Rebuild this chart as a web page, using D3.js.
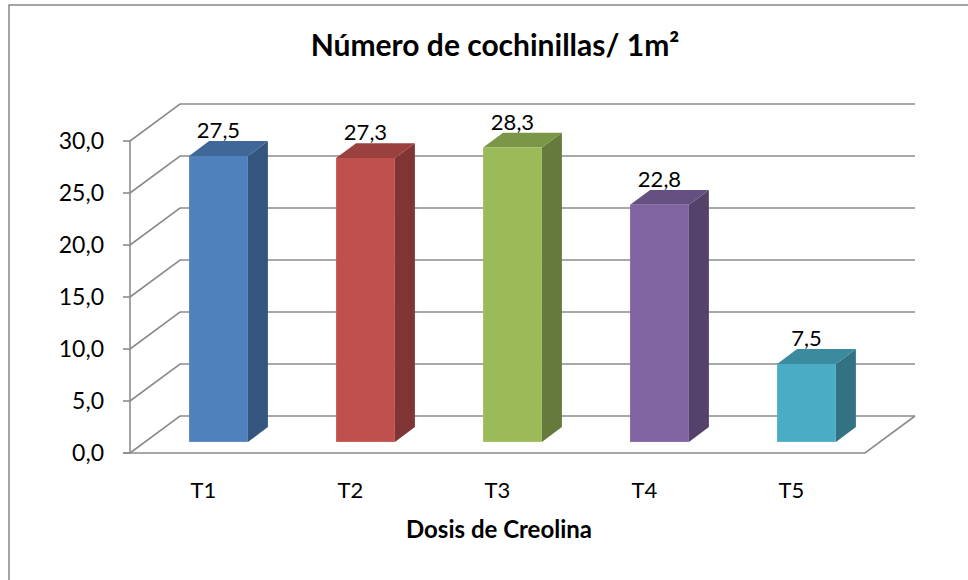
<!DOCTYPE html>
<html>
<head>
<meta charset="utf-8">
<script src="https://cdn.jsdelivr.net/npm/d3@7"></script>
<style>
  body { margin: 0; background: #fff; }
  text { font-family: Lato, "Open Sans", sans-serif; fill: #000; }
</style>
</head>
<body>
<div id="chart"></div>
<script>
// data
var categories = ["T1", "T2", "T3", "T4", "T5"];
var values = [27.5, 27.3, 28.3, 22.8, 7.5];
var colors = ["#4F81BD", "#C0504D", "#9BBB59", "#8064A2", "#4BACC6"];
var yTicks = [0, 5, 10, 15, 20, 25, 30];
var title = "Número de cochinillas/ 1m²";
var xTitle = "Dosis de Creolina";

drawChart();

function drawChart() {
  var width = 968, height = 580;

  // front plane of the 3d box, back wall is shifted by (dx, dy)
  var plotLeft = 130, plotRight = 865, plotBottom = 453, plotTop = 141;
  var dx = 50, dy = -37;
  var d0 = 0.3, d1 = 0.7; // bar depth range

  var svg = d3.select("#chart")
    .append("svg")
    .attr("width", width)
    .attr("height", height);

  // chart border
  svg.append("rect")
    .attr("x", 9).attr("y", 5)
    .attr("width", 990).attr("height", 620)
    .attr("fill", "none")
    .attr("stroke", "#868686")
    .attr("stroke-width", 1.5);

  var x = d3.scaleBand()
    .domain(categories)
    .range([plotLeft, plotRight])
    .paddingInner(0.6)
    .paddingOuter(0.3);

  var y = d3.scaleLinear()
    .domain([0, 30])
    .range([plotBottom, plotTop]);

  // grid lines on side and back wall
  var grid = svg.append("g")
    .attr("fill", "none")
    .attr("stroke", "#8c8c8c")
    .attr("stroke-width", 1.6);

  grid.selectAll("path.grid")
    .data(yTicks)
    .enter().append("path")
    .attr("class", "grid")
    .attr("d", d => {
      var p = d3.path();
      p.moveTo(plotLeft, y(d));
      p.lineTo(plotLeft + dx, y(d) + dy);
      p.lineTo(plotRight + dx, y(d) + dy);
      return p.toString();
    });

  // floor front + right edges
  grid.append("path")
    .attr("d", `M${plotLeft - 7},${y(0)}L${plotRight},${y(0)}L${plotRight + dx},${y(0) + dy}`);

  // front vertical axis + ticks
  grid.append("line")
    .attr("x1", plotLeft).attr("x2", plotLeft)
    .attr("y1", y(30)).attr("y2", y(0));
  grid.selectAll("line.tick")
    .data(yTicks)
    .enter().append("line")
    .attr("class", "tick")
    .attr("x1", plotLeft - 7).attr("x2", plotLeft)
    .attr("y1", d => y(d)).attr("y2", d => y(d));

  svg.append("g")
    .selectAll("text")
    .data(yTicks)
    .enter().append("text")
    .attr("x", 104)
    .attr("y", d => y(d))
    .attr("dy", "0.35em")
    .attr("text-anchor", "end")
    .style("font-size", "23px")
    .text(d => d3.format(".1f")(d).replace(".", ","));

  function pt(px, py, depth) {
    return [px + dx * depth, py + dy * depth];
  }

  // bars
  var bars = svg.append("g")
    .selectAll("g")
    .data(categories.map((c, i) => ({ cat: c, value: values[i], color: colors[i] })))
    .enter().append("g");

  bars.each(function (d) {
    var g = d3.select(this);
    var x0 = x(d.cat), x1 = x(d.cat) + x.bandwidth();
    var yt = y(d.value), yb = y(0);
    var c = d3.rgb(d.color);
    var topCol = d3.rgb(c.r * 0.8, c.g * 0.8, c.b * 0.8);
    var sideCol = d3.rgb(c.r * 0.66, c.g * 0.66, c.b * 0.66);

    // side
    g.append("polygon")
      .attr("points", [pt(x1, yb, d0), pt(x1, yt, d0), pt(x1, yt, d1), pt(x1, yb, d1)].join(" "))
      .attr("fill", sideCol);
    // top
    g.append("polygon")
      .attr("points", [pt(x0, yt, d0), pt(x1, yt, d0), pt(x1, yt, d1), pt(x0, yt, d1)].join(" "))
      .attr("fill", topCol);
    // front
    var f0 = pt(x0, yt, d0), f1 = pt(x1, yb, d0);
    g.append("rect")
      .attr("x", f0[0]).attr("y", f0[1])
      .attr("width", f1[0] - f0[0])
      .attr("height", f1[1] - f0[1])
      .attr("fill", c);

    // value label
    g.append("text")
      .attr("x", (f0[0] + f1[0]) / 2)
      .attr("y", pt(x0, yt, d1)[1] - 3)
      .attr("text-anchor", "middle")
      .style("font-size", "22px")
      .text(d3.format(".1f")(d.value).replace(".", ","));
  });

  // category labels
  svg.append("g")
    .selectAll("text")
    .data(categories)
    .enter().append("text")
    .attr("x", d => x(d) + x.bandwidth() / 2)
    .attr("y", 498)
    .attr("text-anchor", "middle")
    .style("font-size", "22px")
    .text(d => d);

  // titles
  svg.append("text")
    .attr("x", 495).attr("y", 56)
    .attr("text-anchor", "middle")
    .style("font-size", "30px")
    .attr("font-weight", "bold")
    .text(title);

  svg.append("text")
    .attr("x", 499).attr("y", 538)
    .attr("text-anchor", "middle")
    .style("font-size", "24px")
    .attr("font-weight", "bold")
    .text(xTitle);
}
</script>
</body>
</html>
